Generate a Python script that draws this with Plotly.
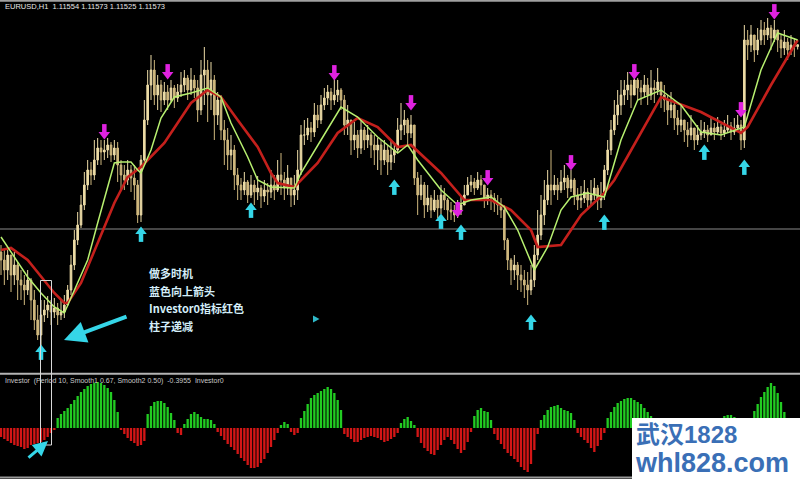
import plotly.graph_objects as go

# ---------------- EURUSD H1 price bars ----------------
first_open = 1.0950
close = [
    1.0942, 1.0932, 1.0947, 1.0927, 1.0937, 1.0922,
    1.0917, 1.0912, 1.0922, 1.0902,
    1.0882, 1.0867, 1.0887,
    1.0892, 1.0897, 1.0890, 1.0894, 1.0887,
    1.0890, 1.0897,
    1.0912, 1.0937, 1.0962, 1.0977, 1.0997, 1.1017, 1.1032, 1.1027, 1.1042, 1.1054, 1.1050,
    1.1052, 1.1057, 1.1047, 1.1054, 1.1037,
    1.1027, 1.1022, 1.1032, 1.1024, 1.1017,
    1.0987, 1.1042, 1.1082, 1.1117, 1.1132, 1.1107, 1.1117, 1.1102,
    1.1110, 1.1102, 1.1114, 1.1104, 1.1110,
    1.1117, 1.1124, 1.1112, 1.1122, 1.1114,
    1.1092, 1.1127, 1.1132, 1.1107, 1.1122,
    1.1087, 1.1102, 1.1072,
    1.1062, 1.1047, 1.1052, 1.1027, 1.1017,
    1.1012, 1.1020, 1.1007, 1.1017, 1.1010, 1.1014, 1.1006, 1.1012, 1.1010,
    1.1017, 1.1012, 1.1027, 1.1022, 1.1014, 1.1024, 1.1007,
    1.1012, 1.1032,
    1.1067, 1.1067, 1.1074, 1.1070,
    1.1087, 1.1082, 1.1097,
    1.1104, 1.1110, 1.1102, 1.1107, 1.1112, 1.1102,
    1.1077, 1.1082,
    1.1062, 1.1067, 1.1054, 1.1072,
    1.1062, 1.1067, 1.1057, 1.1052,
    1.1057, 1.1042, 1.1052, 1.1040,
    1.1047, 1.1052,
    1.1072, 1.1077, 1.1082, 1.1069, 1.1077,
    1.1024, 1.1007, 1.1017,
    1.0997, 1.1004, 1.0992, 1.1002, 1.0994, 1.1007,
    1.1002, 1.0992,
    1.0990, 1.0987, 1.0992, 1.0997,
    1.1007, 1.1017, 1.1020, 1.1014, 1.1022, 1.1017,
    1.1002, 1.1007, 1.1004, 1.0999,
    1.0997, 1.0992,
    1.0962, 1.0942,
    1.0932, 1.0937, 1.0927, 1.0922,
    1.0917, 1.0912, 1.0922,
    1.0947, 1.0967, 1.0987,
    1.1002, 1.1017, 1.1012,
    1.1017, 1.1012, 1.1020, 1.1024, 1.1014, 1.1022,
    1.1007, 1.1002, 1.1004, 1.1010, 1.1002,
    1.1007, 1.1014, 1.1002, 1.1007,
    1.1032, 1.1052, 1.1072,
    1.1087, 1.1097, 1.1107,
    1.1112, 1.1117, 1.1107, 1.1122, 1.1114, 1.1110,
    1.1117, 1.1107, 1.1114, 1.1112, 1.1120, 1.1107, 1.1102,
    1.1092, 1.1097, 1.1084, 1.1077, 1.1082,
    1.1072, 1.1067, 1.1074, 1.1062, 1.1067, 1.1070,
    1.1072, 1.1067, 1.1074, 1.1070, 1.1075, 1.1069, 1.1072, 1.1076, 1.1070, 1.1074, 1.1077,
    1.1062, 1.1162,
    1.1157, 1.1167, 1.1152, 1.1162, 1.1172,
    1.1167, 1.1174, 1.1164, 1.1172,
    1.1162, 1.1154, 1.1160, 1.1152,
    1.1157, 1.11554, 1.11573,
]
high = [
    1.0957, 1.0952, 1.0954, 1.0947, 1.0950, 1.0940,
    1.0932, 1.0927, 1.0932, 1.0924,
    1.0912, 1.0897, 1.0902,
    1.0902, 1.0906, 1.0902, 1.0904, 1.0899,
    1.0902, 1.0907,
    1.0917, 1.0947, 1.0972, 1.0990, 1.1007, 1.1030, 1.1042, 1.1040, 1.1062, 1.1064, 1.1062,
    1.1062, 1.1064, 1.1060, 1.1062, 1.1060,
    1.1042, 1.1037, 1.1042, 1.1037, 1.1037,
    1.1022, 1.1047, 1.1102, 1.1132, 1.1147, 1.1142, 1.1127, 1.1122,
    1.1120, 1.1117, 1.1122, 1.1117, 1.1118,
    1.1130, 1.1132, 1.1127, 1.1134, 1.1127,
    1.1122, 1.1142, 1.1155, 1.1142, 1.1140,
    1.1127, 1.1110, 1.1107,
    1.1082, 1.1074, 1.1067, 1.1057, 1.1034,
    1.1024, 1.1030, 1.1022, 1.1027, 1.1022, 1.1026, 1.1017, 1.1022, 1.1019,
    1.1032, 1.1027, 1.1042, 1.1049, 1.1030, 1.1037, 1.1022,
    1.1027, 1.1052,
    1.1077, 1.1082, 1.1084, 1.1080,
    1.1099, 1.1097, 1.1107,
    1.1114, 1.1117, 1.1114, 1.1125, 1.1122, 1.1114,
    1.1107, 1.1097,
    1.1082, 1.1080, 1.1072, 1.1082,
    1.1075, 1.1077, 1.1070, 1.1067,
    1.1064, 1.1062, 1.1062, 1.1057,
    1.1062, 1.1057,
    1.1084, 1.1099, 1.1092, 1.1084, 1.1087,
    1.1077, 1.1030, 1.1027,
    1.1020, 1.1017, 1.1007, 1.1012, 1.1007, 1.1017,
    1.1014, 1.1004,
    1.1000, 1.0997, 1.1002, 1.1007,
    1.1017, 1.1025, 1.1027, 1.1024, 1.1030, 1.1027,
    1.1017, 1.1014, 1.1012, 1.1009,
    1.1007, 1.1004,
    1.0997, 1.0964,
    1.0944, 1.0947, 1.0940, 1.0937,
    1.0932, 1.0930, 1.0937,
    1.0957, 1.0992, 1.1007,
    1.1022, 1.1032, 1.1052,
    1.1027, 1.1024, 1.1032, 1.1037, 1.1027, 1.1032,
    1.1024, 1.1014, 1.1016, 1.1022, 1.1014,
    1.1022, 1.1024, 1.1017, 1.1020,
    1.1037, 1.1062, 1.1082,
    1.1102, 1.1112, 1.1122,
    1.1122, 1.1130, 1.1122, 1.1134, 1.1124, 1.1122,
    1.1127, 1.1124, 1.1132, 1.1122, 1.1134, 1.1120, 1.1117,
    1.1107, 1.1110, 1.1102, 1.1092, 1.1097,
    1.1082, 1.1080, 1.1087, 1.1074, 1.1077, 1.1082,
    1.1080, 1.1077, 1.1084, 1.1079, 1.1085, 1.1078, 1.1082, 1.1087, 1.1080, 1.1084, 1.1087,
    1.1082, 1.1177,
    1.1172, 1.1177, 1.1167, 1.1174, 1.1182,
    1.1180, 1.1184, 1.1177, 1.1182,
    1.1172, 1.1167, 1.1172, 1.1164,
    1.1167, 1.1164, 1.11573,
]
low = [
    1.0927, 1.0917, 1.0922, 1.0910, 1.0917, 1.0902,
    1.0902, 1.0897, 1.0907, 1.0882,
    1.0872, 1.0862, 1.0854,
    1.0880, 1.0884, 1.0877, 1.0884, 1.0877,
    1.0882, 1.0884,
    1.0897, 1.0907, 1.0932, 1.0957, 1.0974, 1.0992, 1.1012, 1.1017, 1.1022, 1.1037, 1.1037,
    1.1042, 1.1044, 1.1040, 1.1042, 1.1020,
    1.1012, 1.1012, 1.1017, 1.1010, 1.1002,
    1.0979, 1.0980, 1.1037, 1.1077, 1.1102, 1.1097, 1.1092, 1.1090,
    1.1097, 1.1092, 1.1100, 1.1094, 1.1100,
    1.1105, 1.1110, 1.1102, 1.1107, 1.1104,
    1.1080, 1.1087, 1.1097, 1.1080, 1.1092,
    1.1062, 1.1077, 1.1062,
    1.1037, 1.1032, 1.1032, 1.1012, 1.1002,
    1.1002, 1.1007, 1.0999, 1.1004, 1.0997, 1.1002, 1.0994, 1.1000, 1.0997,
    1.1004, 1.1002, 1.1010, 1.1007, 1.1002, 1.1007, 1.0995,
    1.0997, 1.1002,
    1.1027, 1.1057, 1.1062, 1.1060,
    1.1065, 1.1074, 1.1078,
    1.1092, 1.1097, 1.1092, 1.1097, 1.1100, 1.1092,
    1.1067, 1.1067,
    1.1047, 1.1052, 1.1044, 1.1048,
    1.1052, 1.1054, 1.1044, 1.1037,
    1.1032, 1.1027, 1.1037, 1.1027,
    1.1032, 1.1039,
    1.1050, 1.1062, 1.1067, 1.1057, 1.1064,
    1.1017, 1.0987, 1.1002,
    1.0984, 1.0990, 1.0984, 1.0990, 1.0984, 1.0988,
    1.0992, 1.0982,
    1.0982, 1.0980, 1.0984, 1.0987,
    1.0997, 1.1007, 1.1010, 1.1007, 1.1012, 1.1007,
    1.0994, 1.0997, 1.0992, 1.0990,
    1.0987, 1.0984,
    1.0952, 1.0932,
    1.0917, 1.0922, 1.0912, 1.0910,
    1.0904, 1.0897, 1.0907,
    1.0915, 1.0942, 1.0962,
    1.0977, 1.0997, 1.0997,
    1.1007, 1.1002, 1.1009, 1.1012, 1.1004, 1.1010,
    1.0997, 1.0992, 1.0994, 1.0999, 1.0992,
    1.0997, 1.1002, 1.0992, 1.0994,
    1.1002, 1.1027, 1.1047,
    1.1067, 1.1077, 1.1087,
    1.1097, 1.1102, 1.1094, 1.1107, 1.1102, 1.1097,
    1.1104, 1.1097, 1.1102, 1.1099, 1.1107, 1.1094, 1.1090,
    1.1077, 1.1084, 1.1072, 1.1067, 1.1070,
    1.1060, 1.1055, 1.1062, 1.1052, 1.1057, 1.1062,
    1.1064, 1.1060, 1.1067, 1.1062, 1.1068, 1.1062, 1.1065, 1.1070, 1.1062, 1.1067, 1.1070,
    1.1052, 1.1054,
    1.1142, 1.1150, 1.1140, 1.1147, 1.1157,
    1.1157, 1.1162, 1.1152, 1.1160,
    1.1150, 1.1144, 1.1147, 1.1142,
    1.1147, 1.1145, 1.11525,
]
opens = [first_open] + close[:-1]
bars = list(range(len(close)))

# ---------------- moving averages (fast / slow) ----------------
fast_ma_bar = [0, 4, 8, 12, 16, 19, 22, 26, 29, 32, 34, 36, 39, 41, 42, 45, 48, 52, 57, 62,
               66, 69, 74, 77, 81, 88, 90, 96, 102, 107, 113, 119, 122, 125, 132, 137, 141,
               147, 151, 155, 160, 164, 168, 171, 176, 181, 186, 191, 198, 204, 210, 216,
               223, 228, 233, 239]
fast_ma = [1.0965, 1.0945, 1.0925, 1.0909, 1.0895, 1.0889, 1.0912, 1.0942, 1.0979, 1.1015,
           1.1039, 1.1040, 1.1040, 1.1032, 1.1029, 1.1052, 1.1084, 1.1105, 1.1109, 1.1114,
           1.1105, 1.1079, 1.1045, 1.1022, 1.1015, 1.1014, 1.1029, 1.1062, 1.1095, 1.1085,
           1.1065, 1.1049, 1.1057, 1.1042, 1.1012, 1.0997, 1.1002, 1.1005, 1.0995, 1.0972,
           1.0932, 1.0955, 1.0992, 1.1005, 1.1009, 1.1005, 1.1062, 1.1102, 1.1112, 1.1097,
           1.1070, 1.1067, 1.1075, 1.1132, 1.1169, 1.1162]
slow_ma_bar = [0, 3, 8, 12, 16, 19, 20, 24, 29, 34, 38, 41, 42, 49, 57, 62, 66, 71, 77, 81,
               83, 88, 95, 101, 107, 113, 119, 123, 132, 139, 147, 153, 159, 161, 168, 174,
               181, 184, 192, 198, 210, 222, 224, 231, 239]
slow_ma = [1.0952, 1.0954, 1.0942, 1.0925, 1.0909, 1.0899, 1.0899, 1.0919, 1.0959, 1.0999,
           1.1025, 1.1032, 1.1035, 1.1059, 1.1099, 1.1112, 1.1105, 1.1082, 1.1055, 1.1029,
           1.1019, 1.1015, 1.1039, 1.1069, 1.1084, 1.1075, 1.1055, 1.1057, 1.1029, 1.1002,
           1.1002, 1.0992, 1.0972, 1.0955, 1.0957, 1.0987, 1.1009, 1.1022, 1.1069, 1.1105,
           1.1090, 1.1069, 1.1075, 1.1117, 1.1162]

# ---------------- signal arrows ----------------
sell_bar = [31, 50, 100, 123, 137, 146, 171, 190, 222, 232]
sell_price = [1.1070, 1.1130, 1.1129, 1.1099, 1.0992, 1.1024, 1.1039, 1.1130, 1.1092, 1.1190]
buy_bar = [12, 42, 75, 118, 132, 138, 159, 181, 211, 223]
buy_price = [1.0850, 1.0968, 1.0992, 1.1015, 1.0981, 1.0970, 1.0880, 1.0980, 1.1050, 1.1035]

level_price = 1.0973

# ---------------- Investor0 histogram ----------------
investor = [
    -0.45, -0.55, -0.65, -0.75, -0.85, -0.90, -0.95, -1.05, -1.00, -0.85, -0.80, -0.75, -0.70,
    -0.60, -0.45, -0.25, -0.10,
    0.50, 0.70, 0.85, 1.00, 1.20, 1.40, 1.60, 1.80, 1.95, 2.10, 2.20, 2.25, 2.30, 2.25, 2.15,
    2.00, 1.80, 1.40, 0.80,
    -0.10,
    -0.30, -0.50, -0.65, -0.75, -0.90, -0.85, -0.65,
    0.70, 1.10, 1.30, 1.35, 1.35, 1.25, 1.05, 0.75, 0.40,
    -0.25, -0.35,
    0.20, 0.45, 0.70, 0.80, 0.70, 0.55, 0.45, 0.45, 0.40, 0.20,
    -0.20, -0.40, -0.60, -0.80, -0.95, -1.10, -1.30, -1.50, -1.65, -1.85, -2.00, -2.00, -1.95,
    -1.75, -1.55, -1.25, -0.95, -0.60, -0.25,
    0.15, 0.30, 0.20,
    -0.20, -0.35, -0.25,
    0.50, 0.85, 1.20, 1.50, 1.65, 1.75, 1.85, 1.95, 2.05, 1.95, 1.75, 1.40, 0.90,
    -0.30, -0.45, -0.55, -0.70, -0.70, -0.60, -0.50, -0.45, -0.40, -0.45, -0.50, -0.60, -0.70,
    -0.65, -0.55, -0.45, -0.25,
    0.25, 0.45, 0.55, 0.35, 0.15,
    -0.45, -0.75, -1.00, -1.15, -1.30, -1.35, -1.10, -0.85, -0.60, -0.45, -0.60, -0.80, -1.05,
    -1.25, -1.10, -0.70, -0.20,
    0.60, 0.90, 1.00, 0.85, 0.80, 0.40,
    -0.30, -0.60, -0.80, -1.05, -1.25, -1.40, -1.55, -1.70, -1.95, -2.10, -2.20, -1.80, -1.10,
    -0.30,
    0.40, 0.65, 0.90, 1.05, 1.10, 1.15, 1.00, 0.90, 0.85, 0.75, 0.40,
    -0.25, -0.45, -0.60, -0.75, -1.00, -1.20, -0.90, -0.60, -0.25,
    0.50, 0.80, 1.05, 1.25, 1.35, 1.45, 1.50, 1.50, 1.40, 1.30, 1.20, 1.00, 0.80, 0.60, 0.50,
    0.35, 0.20,
    -0.15, -0.30, -0.45, -0.60, -0.70, -0.75, -0.75, -0.70, -0.60, -0.50, -0.40, -0.30, -0.20,
    -0.10, -0.05,
    0.15, 0.30, 0.45, 0.60, 0.65, 0.65, 0.55, 0.35, 0.15,
    -0.10, -0.15,
    0.50, 0.85, 1.20, 1.55, 1.80, 2.05, 2.25, 2.10, 1.75, 1.30, 0.80, 0.20,
    -0.20, -0.30, -0.3955,
]

notes = ["做多时机", "蓝色向上箭头", "Investor0指标红色", "柱子递减"]
main_title = "EURUSD,H1  1.11554 1.11573 1.11525 1.11573"
sub_title = "Investor  (Period 10, Smooth1 0.67, Smooth2 0.50)  -0.3955  Investor0"
brand_lines = ["武汉1828", "whl828.com"]

W, H = 800, 479
PIP = 0.0001  # one pip on the price axis is one screen pixel


def px(x):
    return x / W


def py(y):
    return 1 - y / H


CANDLE = "#ecdba6"
CANDLE_DN = "#cfb87e"
CYAN = "#35d6e8"
MAGENTA = "#e022e0"
BRAND = "#3a6fb6"

fig = go.Figure()

fig.add_trace(go.Candlestick(
    x=bars, open=opens, high=high, low=low, close=close,
    increasing=dict(line=dict(color=CANDLE, width=1), fillcolor=CANDLE),
    decreasing=dict(line=dict(color=CANDLE_DN, width=1), fillcolor=CANDLE_DN),
    whiskerwidth=0, hoverinfo="skip", xaxis="x", yaxis="y",
))
fig.add_trace(go.Scatter(x=slow_ma_bar, y=slow_ma, mode="lines",
                         line=dict(color="#c4201c", width=2.6), hoverinfo="skip"))
fig.add_trace(go.Scatter(x=fast_ma_bar, y=fast_ma, mode="lines",
                         line=dict(color="#b8f070", width=1.5), hoverinfo="skip"))


def arrow_traces(xs, ys, color, down):
    """Thick signal arrows: a short shaft plus a triangular head."""
    sgn = 1 if down else -1
    shaft = go.Scatter(
        x=xs, y=[v + sgn * 3 * PIP for v in ys], mode="markers", hoverinfo="skip",
        marker=dict(symbol="line-ns", size=7, line=dict(color=color, width=4.5)))
    head = go.Scatter(
        x=xs, y=[v - sgn * 2.5 * PIP for v in ys], mode="markers", hoverinfo="skip",
        marker=dict(symbol="triangle-down" if down else "triangle-up", size=10,
                    color=color, line=dict(width=0)))
    return [shaft, head]


for tr in arrow_traces(sell_bar, sell_price, MAGENTA, True):
    fig.add_trace(tr)
for tr in arrow_traces(buy_bar, buy_price, CYAN, False):
    fig.add_trace(tr)

fig.add_trace(go.Bar(
    x=bars, y=investor, xaxis="x", yaxis="y2",
    marker=dict(color=["#22cc22" if v >= 0 else "#d41616" for v in investor], line=dict(width=0)),
    hoverinfo="skip",
))

shapes = [
    dict(type="line", xref="paper", yref="paper", x0=0, x1=1, y0=py(0.8), y1=py(0.8),
         line=dict(color="#a0a0a0", width=2)),
    dict(type="line", xref="paper", yref="paper", x0=0, x1=1, y0=py(373.7), y1=py(373.7),
         line=dict(color="#b4b4b4", width=2)),
    dict(type="line", xref="paper", yref="paper", x0=0, x1=1, y0=py(477.5), y1=py(477.5),
         line=dict(color="#9a9a9a", width=2)),
    dict(type="line", xref="paper", yref="y", x0=0, x1=1, y0=level_price, y1=level_price,
         line=dict(color="#8a8a8a", width=1), layer="below"),
    dict(type="rect", xref="paper", yref="paper", x0=px(40.5), x1=px(51.5), y0=py(445), y1=py(280.5),
         line=dict(color="#d8d8d8", width=1), fillcolor="rgba(0,0,0,0)"),
    dict(type="path", xref="paper", yref="paper",
         path=f"M {px(313)} {py(315.5)} L {px(319.5)} {py(319)} L {px(313)} {py(322.5)} Z",
         fillcolor="#2fb8c8", line=dict(width=0)),
    dict(type="rect", xref="paper", yref="paper", x0=px(632), x1=1, y0=0, y1=py(418),
         fillcolor="white", line=dict(width=0)),
]

brand_text = (f"<b><span style='font-size:24px'>{brand_lines[0]}</span><br>"
              f"<span style='font-size:27px'>{brand_lines[1]}</span></b>")

annotations = [
    dict(xref="paper", yref="paper", x=px(3), y=py(7), text=main_title, showarrow=False,
         xanchor="left", yanchor="middle", font=dict(family="Liberation Sans", size=7.5, color="#e6e6e6")),
    dict(xref="paper", yref="paper", x=px(3), y=py(381), text=sub_title, showarrow=False,
         xanchor="left", yanchor="middle", font=dict(family="Liberation Sans", size=7, color="#c8c8c8")),
    # pointer towards the low on the chart
    dict(xref="paper", yref="paper", x=px(64), y=py(340), ax=64, ay=-24,
         text="", showarrow=True, arrowhead=2, arrowsize=1.1, arrowwidth=4, arrowcolor=CYAN),
    # pointer towards the histogram
    dict(xref="paper", yref="paper", x=px(48), y=py(441), ax=-21, ay=18,
         text="", showarrow=True, arrowhead=2, arrowsize=1, arrowwidth=3, arrowcolor=CYAN),
    dict(xref="paper", yref="paper", x=px(634), y=py(449), text=brand_text, showarrow=False,
         xanchor="left", yanchor="middle", align="left", borderpad=0,
         font=dict(family="Liberation Sans, Noto Sans CJK SC", size=22, color=BRAND)),
]
for t, yy in zip(notes, [273, 291, 308, 326]):
    annotations.append(dict(xref="paper", yref="paper", x=px(147), y=py(yy), text=f"<b>{t}</b>",
                            showarrow=False, xanchor="left", yanchor="middle",
                            font=dict(family="Noto Sans CJK SC", size=11, color="#d4eef9")))

fig.update_layout(
    width=W, height=H, margin=dict(l=0, r=0, t=0, b=0),
    paper_bgcolor="black", plot_bgcolor="black", showlegend=False,
    xaxis=dict(range=[-0.3, 239.7], visible=False, rangeslider=dict(visible=False),
               fixedrange=True, anchor="y"),
    yaxis=dict(domain=[1 - 372 / H, 1], range=[1.0830, 1.1202], visible=False, fixedrange=True),
    yaxis2=dict(domain=[1 - 477 / H, 1 - 375 / H], range=[-2.45, 2.65], visible=False,
                anchor="x", fixedrange=True),
    bargap=0.3,
    shapes=shapes,
    annotations=annotations,
)

fig.write_html("out.html")
